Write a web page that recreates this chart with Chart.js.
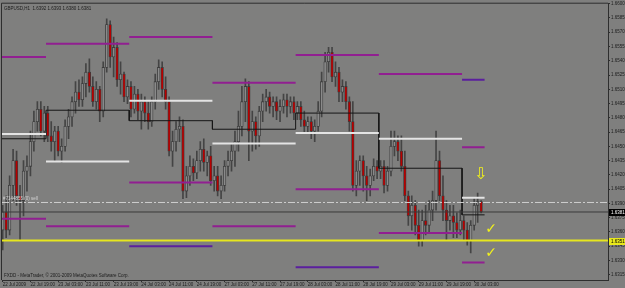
<!DOCTYPE html>
<html>
<head>
<meta charset="utf-8">
<script src="https://cdn.jsdelivr.net/npm/chart.js@4.4.0/dist/chart.umd.min.js"></script>
<style>
  html, body { margin: 0; padding: 0; background: #7f7f7e; }
  #wrap { width: 625px; height: 288px; }
</style>
</head>
<body>
<div id="wrap"><canvas id="chart" width="625" height="288"></canvas></div>
<script>
// GBPUSD H1, one entry per hourly bar (22 Jul 11:00 -> 30 Jul 05:00)
const opens = [1.6362,1.6381,1.6362,1.6409,1.6435,1.6398,1.6393,1.6424,1.6429,1.6455,1.6476,1.6489,1.6466,1.6485,1.6461,1.6455,1.6466,1.6445,1.6450,1.6471,
  1.6481,1.6497,1.6507,1.6499,1.6516,1.6528,1.6513,1.6497,1.6510,1.6487,1.6533,1.6578,1.6544,1.6554,1.6520,1.6526,1.6502,1.6513,1.6489,1.6505,
  1.6487,1.6497,1.6485,1.6476,1.6497,1.6518,1.6533,1.6510,1.6497,1.6445,1.6455,1.6468,1.6471,1.6403,1.6419,1.6429,1.6422,1.6435,1.6447,1.6433,
  1.6440,1.6414,1.6419,1.6403,1.6409,1.6429,1.6435,1.6445,1.6455,1.6471,1.6497,1.6513,1.6466,1.6476,1.6461,1.6487,1.6497,1.6502,1.6492,1.6497,
  1.6487,1.6492,1.6499,1.6492,1.6497,1.6485,1.6492,1.6478,1.6471,1.6476,1.6466,1.6471,1.6487,1.6518,1.6539,1.6549,1.6523,1.6528,1.6507,1.6513,
  1.6497,1.6476,1.6409,1.6424,1.6435,1.6419,1.6409,1.6419,1.6429,1.6424,1.6429,1.6409,1.6424,1.6450,1.6455,1.6445,1.6429,1.6398,1.6377,1.6388,
  1.6367,1.6351,1.6372,1.6367,1.6383,1.6393,1.6435,1.6398,1.6383,1.6372,1.6377,1.6370,1.6362,1.6372,1.6362,1.6351,1.6367,1.6388,1.6392];
const highs = [1.6388,1.6398,1.6419,1.6447,1.6445,1.6409,1.6435,1.6440,1.6466,1.6487,1.6497,1.6497,1.6492,1.6492,1.6476,1.6471,1.6471,1.6458,1.6478,1.6489,
  1.6502,1.6518,1.6520,1.6523,1.6537,1.6542,1.6523,1.6518,1.6513,1.6539,1.6584,1.6582,1.6565,1.6559,1.6539,1.6528,1.6520,1.6518,1.6513,1.6510,
  1.6505,1.6502,1.6497,1.6502,1.6526,1.6541,1.6539,1.6523,1.6502,1.6466,1.6476,1.6481,1.6478,1.6429,1.6440,1.6437,1.6445,1.6455,1.6458,1.6445,
  1.6450,1.6429,1.6429,1.6419,1.6435,1.6445,1.6452,1.6466,1.6487,1.6513,1.6521,1.6518,1.6487,1.6481,1.6492,1.6505,1.6510,1.6507,1.6502,1.6502,
  1.6499,1.6505,1.6505,1.6502,1.6502,1.6497,1.6497,1.6487,1.6481,1.6481,1.6478,1.6497,1.6528,1.6549,1.6554,1.6554,1.6539,1.6533,1.6520,1.6518,
  1.6502,1.6497,1.6435,1.6440,1.6440,1.6429,1.6426,1.6437,1.6435,1.6435,1.6435,1.6429,1.6466,1.6466,1.6461,1.6461,1.6445,1.6403,1.6398,1.6393,
  1.6383,1.6383,1.6388,1.6393,1.6403,1.6466,1.6445,1.6419,1.6393,1.6388,1.6388,1.6380,1.6383,1.6377,1.6370,1.6372,1.6395,1.6401,1.6393];
const lows = [1.6341,1.6354,1.6357,1.6393,1.6388,1.6351,1.6377,1.6403,1.6419,1.6445,1.6466,1.6461,1.6455,1.6455,1.6445,1.6435,1.6440,1.6433,1.6445,1.6458,
  1.6471,1.6485,1.6492,1.6492,1.6502,1.6507,1.6492,1.6489,1.6476,1.6481,1.6528,1.6533,1.6523,1.6513,1.6505,1.6497,1.6495,1.6481,1.6485,1.6478,
  1.6468,1.6476,1.6468,1.6471,1.6489,1.6510,1.6502,1.6489,1.6440,1.6429,1.6445,1.6455,1.6395,1.6396,1.6409,1.6414,1.6416,1.6424,1.6424,1.6419,
  1.6409,1.6403,1.6398,1.6395,1.6403,1.6419,1.6424,1.6429,1.6445,1.6461,1.6476,1.6435,1.6445,1.6447,1.6450,1.6476,1.6487,1.6485,1.6481,1.6478,
  1.6476,1.6485,1.6481,1.6485,1.6478,1.6478,1.6471,1.6464,1.6464,1.6458,1.6455,1.6466,1.6481,1.6507,1.6528,1.6518,1.6513,1.6497,1.6497,1.6489,
  1.6466,1.6403,1.6398,1.6409,1.6403,1.6393,1.6398,1.6414,1.6416,1.6416,1.6401,1.6403,1.6419,1.6440,1.6435,1.6424,1.6393,1.6367,1.6362,1.6357,
  1.6345,1.6345,1.6357,1.6360,1.6372,1.6383,1.6393,1.6372,1.6351,1.6362,1.6354,1.6354,1.6357,1.6351,1.6346,1.6338,1.6362,1.6370,1.6380];
const closes = [1.6381,1.6362,1.6409,1.6435,1.6398,1.6393,1.6424,1.6429,1.6455,1.6476,1.6489,1.6466,1.6485,1.6461,1.6455,1.6466,1.6445,1.6450,1.6471,1.6481,
  1.6497,1.6507,1.6499,1.6516,1.6528,1.6513,1.6497,1.6510,1.6487,1.6533,1.6578,1.6544,1.6554,1.6520,1.6526,1.6502,1.6513,1.6489,1.6505,1.6487,
  1.6497,1.6485,1.6476,1.6497,1.6518,1.6533,1.6510,1.6497,1.6445,1.6455,1.6468,1.6471,1.6403,1.6419,1.6429,1.6422,1.6435,1.6447,1.6433,1.6440,
  1.6414,1.6419,1.6403,1.6409,1.6429,1.6435,1.6445,1.6455,1.6471,1.6497,1.6513,1.6466,1.6476,1.6461,1.6487,1.6497,1.6502,1.6492,1.6497,1.6487,
  1.6492,1.6499,1.6492,1.6497,1.6485,1.6492,1.6478,1.6471,1.6476,1.6466,1.6471,1.6487,1.6518,1.6539,1.6549,1.6523,1.6528,1.6507,1.6513,1.6497,
  1.6476,1.6409,1.6424,1.6435,1.6419,1.6409,1.6419,1.6429,1.6424,1.6429,1.6409,1.6424,1.6450,1.6455,1.6445,1.6429,1.6398,1.6377,1.6388,1.6367,
  1.6351,1.6372,1.6367,1.6383,1.6393,1.6435,1.6398,1.6383,1.6372,1.6377,1.6370,1.6362,1.6372,1.6362,1.6351,1.6367,1.6388,1.6392,1.6381];

// time axis: a label every 8 bars
const xTickIdx = [0,8,16,24,32,40,48,56,64,72,80,88,96,104,112,120,128,136];
const xTickLabels = ['22 Jul 2009','22 Jul 19:00','23 Jul 03:00','23 Jul 11:00','23 Jul 19:00','24 Jul 03:00','24 Jul 11:00','24 Jul 19:00',
  '27 Jul 03:00','27 Jul 11:00','27 Jul 19:00','28 Jul 03:00','28 Jul 11:00','28 Jul 19:00','29 Jul 03:00','29 Jul 11:00','29 Jul 19:00','30 Jul 03:00'];
const yTicks = [1.6600,1.6585,1.6570,1.6555,1.6540,1.6525,1.6510,1.6495,1.6480,1.6465,1.6450,1.6435,1.6420,1.6405,1.6390,1.6375,1.6360,1.6345,1.6330,1.6315];

// daily sessions (bar index where each day begins / ends)
const dayFrom = [-0.2, 12.5, 36.5, 60.5, 84.5, 108.5, 132.5];
const dayTo   = [12.5, 36.5, 60.5, 84.5, 108.5, 132.5, 139];
// daily levels
const pivot    = [1.6458, 1.6488, 1.6477, 1.6468, 1.6485, 1.6427, 1.6378];
const whiteLvl = [1.6463, 1.6434, 1.6498, 1.6453, 1.6464, 1.6458, 1.6396];
const magUpper = [1.6544, 1.6558, 1.6565, 1.6517, 1.6546, 1.6526, 1.6449];
const magLower = [1.6374, 1.6366, 1.6412, 1.6366, 1.6405, 1.6359, 1.6328];
const indigoLvl = [null, null, 1.6345, null, 1.6323, null, 1.6520];

const bidPrice = 1.6381;
const yellowPrice = 1.6351;
const orderPrice = 1.6391;

const X_MIN = -0.2, X_MAX = 174.6;
const Y_MIN = 1.63095, Y_MAX = 1.6600;

function levelPoints(levels) {
  const pts = [];
  levels.forEach((v, d) => {
    if (v === null) return;
    pts.push({x: dayFrom[d], y: v}, {x: dayTo[d], y: v}, {x: dayTo[d], y: null});
  });
  return pts;
}
function stepPoints(levels) {
  const pts = [];
  levels.forEach((v, d) => { pts.push({x: dayFrom[d], y: v}, {x: dayTo[d], y: v}); });
  return pts;
}
function flat(v) { return [{x: X_MIN, y: v}, {x: X_MAX, y: v}]; }

const bodies = opens.map((o, i) => ({x: i, y: [o, closes[i]]}));
const wicks = opens.map((o, i) => ({x: i, y: [lows[i], highs[i]]}));
const bodyFill = opens.map((o, i) => closes[i] >= o ? '#8a8a8a' : '#b80000');

const lineBase = {type: 'line', pointRadius: 0, tension: 0, spanGaps: false, order: 0};

const decor = {
  id: 'decor',
  beforeDraw(chart) {
    const ctx = chart.ctx;
    ctx.save();
    ctx.fillStyle = '#7f7f7e';
    ctx.fillRect(0, 0, chart.width, chart.height);
    ctx.restore();
  },
  afterDraw(chart) {
    const {ctx, chartArea: a, scales: {x, y}} = chart;
    ctx.save();
    // frame
    ctx.strokeStyle = '#2e2e2e';
    ctx.lineWidth = 1;
    ctx.beginPath();
    ctx.moveTo(a.left - 0.5, a.bottom);
    ctx.lineTo(a.left - 0.5, a.top - 0.5);
    ctx.lineTo(a.right, a.top - 0.5);
    ctx.stroke();

    ctx.font = '4.5px "Liberation Sans", Arial, sans-serif';
    ctx.fillStyle = '#1c1c1c';
    ctx.textAlign = 'left';
    ctx.textBaseline = 'top';
    ctx.fillText('GBPUSD,H1  1.6392 1.6393 1.6380 1.6381', a.left + 2, a.top + 3);
    ctx.textBaseline = 'bottom';
    ctx.fillText('FXDD - MetaTrader, \u00a9 2001-2009 MetaQuotes Software Corp.', a.left + 2, a.bottom - 2);
    ctx.fillStyle = '#d4d4d4';
    ctx.fillText('#7144855 (0) sell', a.left + 1, y.getPixelForValue(orderPrice) - 1);

    // price boxes on the axis
    function box(price, bg, fg) {
      const py = Math.round(y.getPixelForValue(price));
      ctx.fillStyle = bg;
      ctx.fillRect(a.right + 1, py - 3, 16, 7);
      ctx.fillStyle = fg;
      ctx.textBaseline = 'middle';
      ctx.fillText(price.toFixed(4), a.right + 3, py + 0.5);
    }
    box(bidPrice, '#000000', '#ffffff');
    box(yellowPrice, '#e8e81c', '#000000');

    // hand-placed marks
    ctx.fillStyle = '#f2f21a';
    ctx.textAlign = 'center';
    ctx.textBaseline = 'middle';
    ctx.font = '16px "DejaVu Sans"';
    ctx.fillText('\u21e9', x.getPixelForValue(137.9), y.getPixelForValue(1.6420));
    ctx.font = '14px "DejaVu Sans"';
    ctx.fillText('\u2713', x.getPixelForValue(140.9), y.getPixelForValue(1.6363));
    ctx.fillText('\u2713', x.getPixelForValue(140.9), y.getPixelForValue(1.6337));
    ctx.restore();
  }
};

new Chart(document.getElementById('chart'), {
  type: 'bar',
  data: {
    datasets: [
      Object.assign({}, lineBase, {data: flat(yellowPrice), borderColor: '#e6e61e', borderWidth: 2}),
      Object.assign({}, lineBase, {data: flat(orderPrice), borderColor: '#cfcfcf', borderWidth: 1, borderDash: [7, 2, 2, 2]}),
      Object.assign({}, lineBase, {data: flat(bidPrice), borderColor: '#3a3a3a', borderWidth: 1}),
      Object.assign({}, lineBase, {data: levelPoints(whiteLvl), borderColor: '#e4e4e4', borderWidth: 2}),
      Object.assign({}, lineBase, {data: levelPoints(magUpper), borderColor: '#911f91', borderWidth: 2}),
      Object.assign({}, lineBase, {data: levelPoints(magLower), borderColor: '#911f91', borderWidth: 2}),
      Object.assign({}, lineBase, {data: levelPoints(indigoLvl), borderColor: '#5b1f9e', borderWidth: 2}),
      Object.assign({}, lineBase, {data: stepPoints(pivot), borderColor: '#161616', borderWidth: 1}),
      {
        data: bodies, order: 1, grouped: false, barThickness: 2.6,
        backgroundColor: bodyFill, borderColor: '#3c3c3c', borderWidth: 0.8, borderSkipped: false
      },
      {
        data: wicks, order: 2, grouped: false, barThickness: 1,
        backgroundColor: '#444444', borderWidth: 0
      }
    ]
  },
  options: {
    responsive: false,
    animation: false,
    events: [],
    layout: {padding: {left: 2, top: 1, right: 0, bottom: 0}},
    plugins: {legend: {display: false}, tooltip: {enabled: false}},
    scales: {
      x: {
        type: 'linear', min: X_MIN, max: X_MAX, offset: false,
        grid: {drawOnChartArea: false, offset: false, tickLength: 2, color: '#2e2e2e'},
        border: {color: '#2e2e2e'},
        afterBuildTicks: s => { s.ticks = xTickIdx.map(v => ({value: v})); },
        afterFit: s => { s.height = 8; },
        ticks: {
          autoSkip: false, maxRotation: 0, align: 'start', padding: 0,
          color: '#1c1c1c', font: {family: '"Liberation Sans", Arial', size: 4.5},
          callback: (v, i) => xTickLabels[i]
        }
      },
      y: {
        position: 'right', min: Y_MIN, max: Y_MAX,
        grid: {drawOnChartArea: false, tickLength: 2, color: '#2e2e2e'},
        border: {color: '#2e2e2e'},
        afterBuildTicks: s => { s.ticks = yTicks.map(v => ({value: v})); },
        afterFit: s => { s.width = 17; },
        ticks: {
          autoSkip: false, padding: 1,
          color: '#1c1c1c', font: {family: '"Liberation Sans", Arial', size: 4.5},
          callback: v => v.toFixed(4)
        }
      }
    }
  },
  plugins: [decor]
});
</script>
</body>
</html>
